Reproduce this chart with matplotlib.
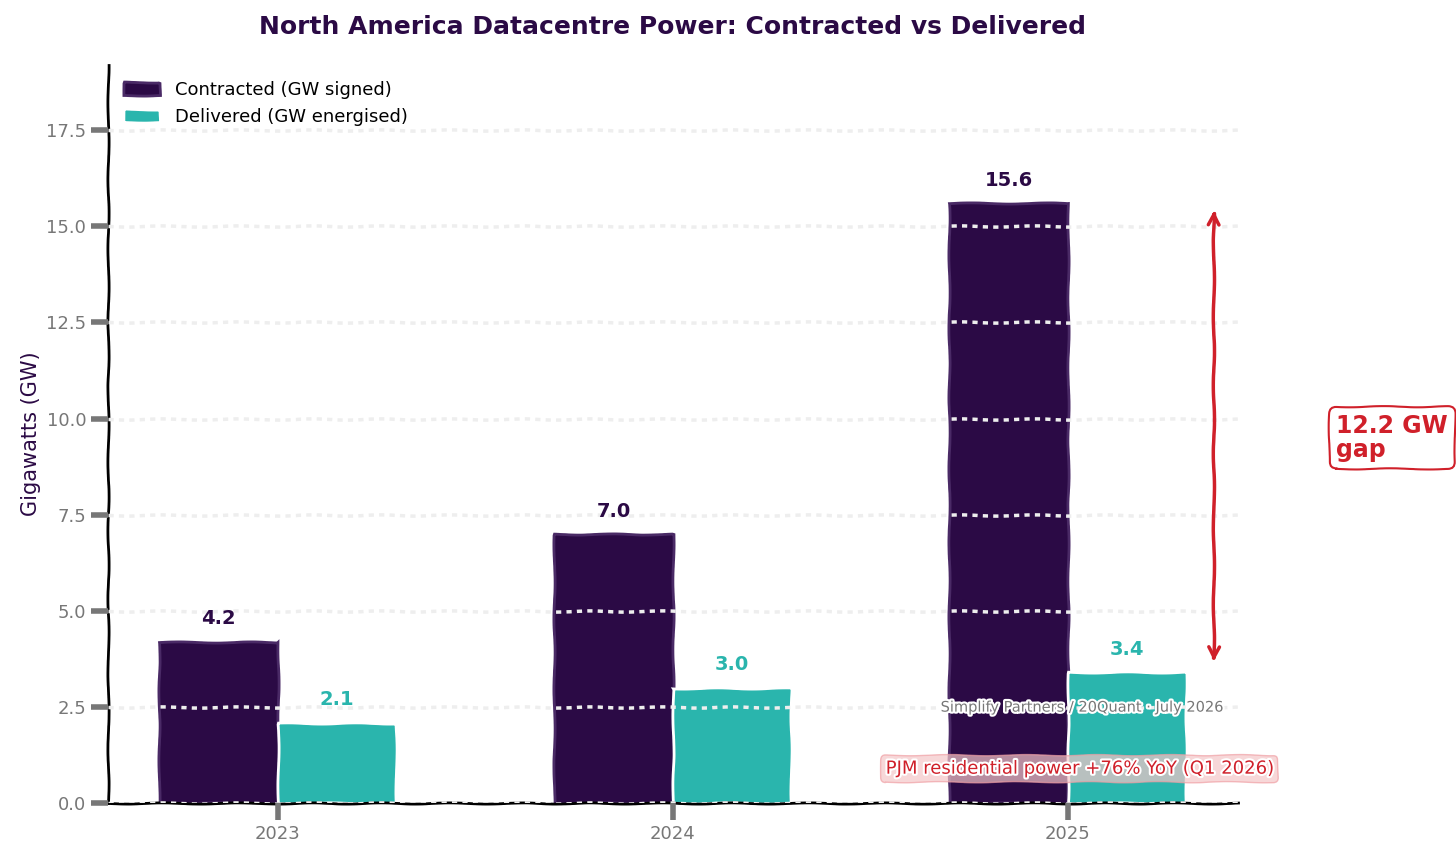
import matplotlib.pyplot as plt
import matplotlib.patheffects as pe
import numpy as np

years = ["2023", "2024", "2025"]
contracted = [4.2, 7.0, 15.6]
delivered = [2.1, 3.0, 3.4]

purple = "#2b0a45"
teal = "#2ab5ad"
red = "#d0202a"

plt.rcParams['path.sketch'] = (0.6, 80, 2)
fig = plt.figure(figsize=(14.56, 8.61), dpi=100)
ax = fig.add_axes([0.074, 0.067, 0.776, 0.858])

x = np.arange(len(years))
w = 0.3
ax.bar(x - w/2, contracted, w, color=purple, edgecolor="#4a2a66", linewidth=2,
       label="Contracted (GW signed)", zorder=2)
ax.bar(x + w/2, delivered, w, color=teal, edgecolor="white", linewidth=2,
       label="Delivered (GW energised)", zorder=2)

for i in range(len(years)):
    ax.text(x[i] - w/2, contracted[i] + 0.35, f"{contracted[i]:.1f}", ha="center",
            va="bottom", fontsize=14, fontweight="bold", color=purple)
    ax.text(x[i] + w/2, delivered[i] + 0.35, f"{delivered[i]:.1f}", ha="center",
            va="bottom", fontsize=14, fontweight="bold", color=teal)

ax.set_xlim(-0.43, 2.43)
ax.set_ylim(0, 19.2)
ax.set_yticks(np.arange(0, 17.6, 2.5))
ax.set_xticks(x)
ax.set_xticklabels(years)
ax.yaxis.grid(True, color="#eeeeee", linestyle=(0, (1.5, 1.5)), linewidth=2.5, zorder=3)
ax.set_axisbelow(False)
ax.tick_params(colors="#777777", labelsize=13, width=4, length=12)
for s in ["top", "right"]:
    ax.spines[s].set_visible(False)
for s in ["left", "bottom"]:
    ax.spines[s].set_linewidth(2)
ax.set_ylabel("Gigawatts (GW)", fontsize=15, color=purple)
ax.set_title("North America Datacentre Power: Contracted vs Delivered",
             fontsize=18, fontweight="bold", color=purple, pad=22)

ax.annotate("", xy=(2.37, 15.5), xytext=(2.37, 3.6),
            arrowprops=dict(arrowstyle="<->", color=red, lw=2.5, mutation_scale=20))
ax.text(2.68, 9.5, "12.2 GW\ngap", fontsize=17, fontweight="bold", color=red,
        va="center", ha="left", linespacing=1.0,
        bbox=dict(boxstyle="round,pad=0.3", fc="white", ec=red, lw=1.5))

ax.text(2.40, 2.5, "Simplify Partners / 20Quant · July 2026", fontsize=10.5,
        color="#777777", ha="right", va="center", zorder=5,
        path_effects=[pe.withStroke(linewidth=3, foreground="white")])
ax.text(2.03, 0.9, "PJM residential power +76% YoY (Q1 2026)", fontsize=13,
        color=red, ha="center", va="center", zorder=5,
        path_effects=[pe.withStroke(linewidth=3, foreground="white")],
        bbox=dict(boxstyle="round,pad=0.25", fc="#f5c6c8", ec="#f0a0a5", alpha=0.7))

ax.legend(loc="upper left", frameon=False, fontsize=13)
fig.savefig("out.png", dpi=100)
